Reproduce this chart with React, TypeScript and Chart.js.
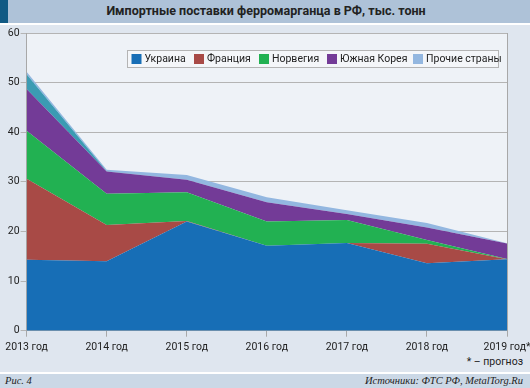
import React, { useEffect, useRef } from "react";
import { Chart, registerables } from "chart.js";

Chart.register(...registerables);

const YEARS = ["2013 год", "2014 год", "2015 год", "2016 год", "2017 год", "2018 год", "2019 год*"];
const UKRAINE = [14.3, 14.0, 22.0, 17.1, 17.7, 13.6, 14.4];
const FRANCE = [16.3, 7.3, 0.1, 0, 0, 3.9, 0];
const NORWAY = [9.7, 6.3, 5.8, 4.9, 4.6, 0.8, 0.05];
const KOREA = [8.4, 4.5, 2.5, 3.9, 1.2, 2.5, 3.1];
const TEAL = [3.0, 0.05, 0, 0, 0, 0, 0];
const OTHER = [0.5, 0.3, 1.0, 1.0, 0.8, 0.9, 0.1];

const SERIES_NAMES = ["Украина", "Франция", "Норвегия", "Южная Корея", "Прочие страны"];
const COLORS = ["#176eb6", "#a84a46", "#22b152", "#733b97", "#93b7e0"];
const TEAL_COLOR = "#3b9bb3";
const LEGEND_X = [131.5, 194, 259, 327, 413];

const FONT = "Roboto, 'Liberation Sans', Arial, sans-serif";
const SERIF = "'Liberation Serif', 'Times New Roman', serif";

const plotBg = {
  id: "plotBg",
  beforeDraw(chart: any) {
    const { ctx, chartArea: a } = chart;
    ctx.save();
    ctx.fillStyle = "#eef2f7";
    ctx.fillRect(a.left, a.top, a.right - a.left, a.bottom - a.top);
    ctx.restore();
  },
  afterDraw(chart: any) {
    const { ctx, chartArea: a } = chart;
    ctx.save();
    ctx.strokeStyle = "#a8a8a8";
    ctx.lineWidth = 1;
    ctx.beginPath();
    ctx.moveTo(Math.round(a.right) + 0.5, a.top);
    ctx.lineTo(Math.round(a.right) + 0.5, a.bottom);
    ctx.stroke();
    // legend
    const bx = 127, by = 50, bw = 371, bh = 17;
    ctx.fillStyle = "#f4f6f9";
    ctx.fillRect(bx, by, bw, bh);
    ctx.strokeStyle = "#b4b4b4";
    ctx.strokeRect(bx + 0.5, by + 0.5, bw, bh);
    ctx.font = `10.5px ${FONT}`;
    ctx.textBaseline = "middle";
    const cy = by + bh / 2 + 0.5;
    SERIES_NAMES.forEach((name, i) => {
      const x = LEGEND_X[i];
      ctx.fillStyle = COLORS[i];
      ctx.fillRect(x, cy - 5, 10, 10);
      ctx.fillStyle = "#222";
      ctx.fillText(name, x + 13, cy);
    });
    ctx.restore();
  },
};

export default function App() {
  const ref = useRef<HTMLCanvasElement | null>(null);

  useEffect(() => {
    document.body.style.margin = "0";
    const canvas = ref.current;
    if (!canvas) return;
    const values = [UKRAINE, FRANCE, NORWAY, KOREA, TEAL, OTHER];
    const cols = [COLORS[0], COLORS[1], COLORS[2], COLORS[3], TEAL_COLOR, COLORS[4]];
    const names = [SERIES_NAMES[0], SERIES_NAMES[1], SERIES_NAMES[2], SERIES_NAMES[3], "", SERIES_NAMES[4]];
    const chart = new Chart(canvas, {
      type: "line",
      data: {
        labels: YEARS,
        datasets: values.map((v, i) => ({
          label: names[i],
          data: v,
          backgroundColor: cols[i],
          borderColor: cols[i],
          borderWidth: 0,
          pointRadius: 0,
          fill: i === 0 ? "origin" : "-1",
          tension: 0,
        })),
      },
      options: {
        animation: false,
        responsive: false,
        maintainAspectRatio: false,
        layout: { padding: { top: 33, right: 23, left: 0, bottom: 0 } },
        plugins: { legend: { display: false }, tooltip: { enabled: false } },
        scales: {
          x: {
            grid: { drawOnChartArea: false, tickLength: 6, color: "#a8a8a8" },
            border: { color: "#a8a8a8" },
            ticks: { color: "#222", font: { family: FONT, size: 10.5 }, padding: 4, maxRotation: 0, autoSkip: false },
            afterFit: (s: any) => {
              s.height = 57.3;
              s.paddingLeft = 0;
              s.paddingRight = 0;
            },
          },
          y: {
            stacked: true,
            min: 0,
            max: 60,
            grid: { color: "#b4b4b4", tickLength: 6 },
            border: { color: "#a8a8a8" },
            ticks: { stepSize: 10, color: "#222", font: { family: FONT, size: 10.5 }, padding: 1 },
            afterFit: (s: any) => {
              s.width = 26.6;
              s.paddingTop = 0;
              s.paddingBottom = 0;
            },
          },
        },
      },
      plugins: [plotBg],
    });
    return () => chart.destroy();
  }, []);

  return (
    <div style={{ position: "absolute", left: 0, top: 0, width: 530, height: 388, background: "#dfe6ef", overflow: "hidden", fontFamily: FONT }}>
      <div style={{ position: "absolute", left: 0, top: 0, width: 530, height: 22.5, background: "#aec2d8" }} />
      <div style={{ position: "absolute", left: 0, top: 0, width: 8, height: 22.5, background: "#115a84" }} />
      <div style={{ position: "absolute", left: 0, top: 22.5, width: 530, height: 2.5, background: "#ffffff" }} />
      <div style={{ position: "absolute", left: 0, top: 0, width: 530, height: 22.5, lineHeight: "22.5px", textAlign: "center", fontWeight: "bold", fontSize: 12.5, color: "#222", paddingLeft: 2, boxSizing: "border-box" }}>
        Импортные поставки ферромарганца в РФ, тыс. тонн
      </div>
      <div style={{ position: "absolute", right: 7, top: 355, fontSize: 10.5, color: "#222" }}>* – прогноз</div>
      <div style={{ position: "absolute", left: 0, top: 372, width: 530, height: 1.5, background: "#ffffff" }} />
      <div style={{ position: "absolute", left: 0, top: 373.5, width: 530, height: 14.5, background: "#cbd8e6" }} />
      <div style={{ position: "absolute", left: 5, top: 373.5, height: 14.5, lineHeight: "14.5px", fontFamily: SERIF, fontStyle: "italic", fontSize: 10.5, color: "#222" }}>Рис. 4</div>
      <div style={{ position: "absolute", right: 7, top: 373.5, height: 14.5, lineHeight: "14.5px", fontFamily: SERIF, fontStyle: "italic", fontSize: 10.5, color: "#222" }}>Источники: ФТС РФ, MetalTorg.Ru</div>
      <canvas ref={ref} width={530} height={388} style={{ position: "absolute", left: 0, top: 0, display: "block" }} />
    </div>
  );
}
